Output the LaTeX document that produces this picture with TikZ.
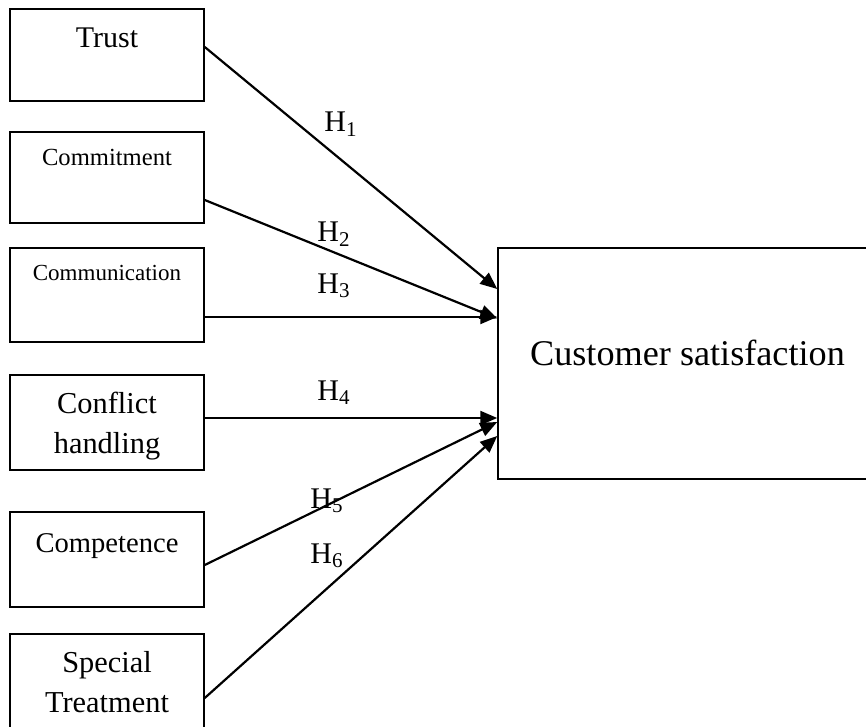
\documentclass[tikz,border=0pt]{standalone}
\usepackage{fontspec}
\setmainfont{Liberation Serif}
\usepackage{tikz}
\usetikzlibrary{
  positioning,
  arrows.meta
}
\tikzset{
  >=Triangle,
  factor/.style={rectangle,draw,line width=0.75pt,minimum width=97pt,inner xsep=2pt,inner ysep=0pt,align=center},
  outcome/.style={rectangle,draw,line width=0.75pt,minimum width=189.5pt,inner sep=0pt,align=center,font=\fontsize{18.1}{22}\selectfont},
  link/.style={-{Triangle[length=8.5pt,width=7pt]},line width=1.1pt},
  hyp/.style={anchor=base west,inner sep=0pt,font=\fontsize{15}{18}\selectfont}
}

\begin{document}
\begin{tikzpicture}[x=0.5pt,y=-0.5pt]
    \useasboundingbox (0,0) rectangle (866,727);
    \clip (0,0) rectangle (866,727);

    % predictors
    \node[factor,text height=19.5pt,text depth=26.5pt,font=\fontsize{15}{20}\selectfont] (trust) at (107,55) {Trust};
    \node[factor,text height=17pt,text depth=28.5pt,font=\fontsize{12.3}{15}\selectfont] (commit) at (107,177.5) {Commitment};
    \node[factor,text height=16pt,text depth=31pt,font=\fontsize{11.5}{14}\selectfont] (comm) at (107,295) {Communication};
    \node[factor,text height=39pt,text depth=8.5pt,font=\fontsize{15.2}{20}\selectfont] (conflict) at (107,422.5) {Conflict\\handling};
    \node[factor,text height=20pt,text depth=27.5pt,font=\fontsize{14.3}{19}\selectfont] (compet) at (107,559.5) {Competence};
    \node[factor,text height=39pt,text depth=8.5pt,font=\fontsize{15.2}{20}\selectfont] (special) at (107,681.5) {Special\\Treatment};

    % outcome
    \node[outcome,text height=58.5pt,text depth=57pt] (satisf) at (687.5,363.5) {Customer satisfaction};

    \draw[link] ([yshift=4pt]trust.east) -- ([yshift=37.25pt]satisf.west);
    \draw[link] ([yshift=-11.25pt]commit.east) -- ([yshift=22.5pt]satisf.west);
    \draw[link] ([yshift=-11pt]comm.east) -- ([yshift=-11pt]comm.east -| satisf.west);
    \draw[link] ([yshift=2.25pt]conflict.east) -- ([yshift=2.25pt]conflict.east -| satisf.west);
    \draw[link] ([yshift=-2.75pt]compet.east) -- ([yshift=-29.25pt]satisf.west);
    \draw[link] ([yshift=-8.25pt]special.east) -- ([yshift=-36.25pt]satisf.west);

    % hypotheses
    \node[hyp] (h1) at (324,132) {H\textsubscript{1}};
    \node[hyp] (h2) at (317,242) {H\textsubscript{2}};
    \node[hyp] (h3) at (317,293) {H\textsubscript{3}};
    \node[hyp] (h4) at (317,400) {H\textsubscript{4}};
    \node[hyp] (h5) at (310,508) {H\textsubscript{5}};
    \node[hyp] (h6) at (310,563) {H\textsubscript{6}};
\end{tikzpicture}
\end{document}
